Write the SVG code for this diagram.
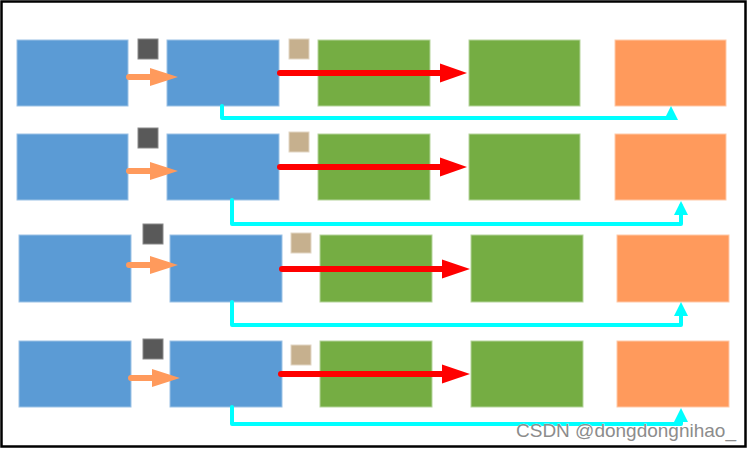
<svg xmlns="http://www.w3.org/2000/svg" width="748" height="449" viewBox="0 0 748 449">
<style>
.blue{fill:#5B9BD5;stroke:#9CC2E5;stroke-width:1}
.green{fill:#75AD43;stroke:#B5D49C;stroke-width:1}
.orange{fill:#FF9A5C;stroke:#FFC9A8;stroke-width:1}
.dark{fill:#595959;stroke:#8A8A8A;stroke-width:1}
.tan{fill:#C6B08E;stroke:#E2D6C4;stroke-width:1}
.oline{stroke:#FF9A5C;stroke-width:6;stroke-linecap:round;fill:none}
.ohead{fill:#FF9A5C}
.rline{stroke:#FF0000;stroke-width:6;stroke-linecap:round;fill:none}
.rhead{fill:#FF0000}
.cline{stroke:#00FFFF;stroke-width:4;fill:none;stroke-linejoin:round;stroke-linecap:round}
.chead{fill:#00FFFF}
.wm{font-family:"Liberation Sans",Arial,sans-serif;font-size:19px;fill:#8C8C8C;stroke:#FFFFFF;stroke-width:0.6;paint-order:stroke}
</style>
<rect x="0" y="0" width="748" height="449" fill="#FFFFFF"/>
<rect x="1.5" y="1.5" width="744" height="445" fill="none" stroke="#000000" stroke-width="2.5"/>

<g id="row1">
<rect id="r1b1" class="blue" x="17" y="40" width="111" height="66"/>
<rect id="r1d" class="dark" x="138" y="39" width="20" height="20"/>
<rect id="r1b2" class="blue" x="167" y="40" width="112" height="66"/>
<rect id="r1t" class="tan" x="289" y="39" width="20" height="20"/>
<rect id="r1g1" class="green" x="318" y="40" width="112" height="66"/>
<rect id="r1g2" class="green" x="469" y="40" width="111" height="66"/>
<rect id="r1o" class="orange" x="615" y="40" width="111" height="66"/>
</g>
<g id="row2">
<rect id="r2b1" class="blue" x="17" y="134" width="111" height="66"/>
<rect id="r2d" class="dark" x="138" y="128" width="20" height="20"/>
<rect id="r2b2" class="blue" x="167" y="134" width="112" height="66"/>
<rect id="r2t" class="tan" x="289" y="132" width="20" height="20"/>
<rect id="r2g1" class="green" x="318" y="134" width="112" height="66"/>
<rect id="r2g2" class="green" x="469" y="134" width="111" height="66"/>
<rect id="r2o" class="orange" x="615" y="134" width="111" height="66"/>
</g>
<g id="row3">
<rect id="r3b1" class="blue" x="19" y="235" width="112" height="67"/>
<rect id="r3d" class="dark" x="143" y="224" width="20" height="20"/>
<rect id="r3b2" class="blue" x="170" y="235" width="112" height="67"/>
<rect id="r3t" class="tan" x="291" y="233" width="20" height="20"/>
<rect id="r3g1" class="green" x="320" y="235" width="112" height="67"/>
<rect id="r3g2" class="green" x="471" y="235" width="112" height="67"/>
<rect id="r3o" class="orange" x="617" y="235" width="112" height="67"/>
</g>
<g id="row4">
<rect id="r4b1" class="blue" x="19" y="341" width="112" height="66"/>
<rect id="r4d" class="dark" x="143" y="339" width="20" height="20"/>
<rect id="r4b2" class="blue" x="170" y="341" width="112" height="66"/>
<rect id="r4t" class="tan" x="291" y="345" width="20" height="20"/>
<rect id="r4g1" class="green" x="320" y="341" width="112" height="66"/>
<rect id="r4g2" class="green" x="471" y="341" width="112" height="66"/>
<rect id="r4o" class="orange" x="617" y="341" width="112" height="66"/>
</g>

<g id="connectors">
<!-- row 1 -->
<line class="oline" x1="129" y1="77" x2="152" y2="77"/>
<polygon class="ohead" points="150,68 178,77 150,86"/>
<line class="rline" x1="280" y1="73" x2="442" y2="73"/>
<polygon class="rhead" points="440,63.5 467,73 440,82.5"/>
<polyline class="cline" points="222,106 222,118 671,118 671,112"/>
<polygon class="chead" points="671,106 678,120 664,120"/>
<!-- row 2 -->
<line class="oline" x1="129" y1="171" x2="152" y2="171"/>
<polygon class="ohead" points="150,162 178,171 150,180"/>
<line class="rline" x1="280" y1="167" x2="442" y2="167"/>
<polygon class="rhead" points="440,157.5 467,167 440,176.5"/>
<polyline class="cline" points="232,200 232,224 681,224 681,206"/>
<polygon class="chead" points="681,201 688,215 674,215"/>
<!-- row 3 -->
<line class="oline" x1="129" y1="265" x2="152" y2="265"/>
<polygon class="ohead" points="150,256 178,265 150,274"/>
<line class="rline" x1="282" y1="269" x2="444" y2="269"/>
<polygon class="rhead" points="442,259.5 470,269 442,278.5"/>
<polyline class="cline" points="232,302 232,325 681,325 681,308"/>
<polygon class="chead" points="681,302 688,316 674,316"/>
<!-- row 4 -->
<line class="oline" x1="131" y1="378" x2="154" y2="378"/>
<polygon class="ohead" points="152,369 180,378 152,387"/>
<line class="rline" x1="281" y1="374" x2="444" y2="374"/>
<polygon class="rhead" points="442,364.5 470,374 442,383.5"/>
<polyline class="cline" points="232,407 232,424 681,424 681,414"/>
<polygon class="chead" points="681,408 688,422 674,422"/>
</g>

<text class="wm" x="516" y="437">CSDN @dongdongnihao_</text>
</svg>
